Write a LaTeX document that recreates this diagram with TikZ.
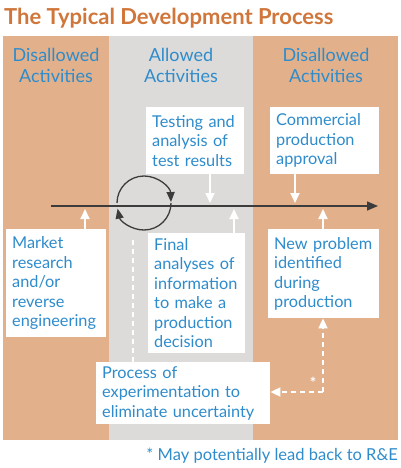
\documentclass[tikz,border=0pt]{standalone}
\usepackage{fontspec}
\setmainfont{Lato}
\usetikzlibrary{arrows.meta}
\definecolor{orangecol}{RGB}{226,177,139}
\definecolor{greycol}{RGB}{220,219,218}
\definecolor{titleorange}{RGB}{208,118,58}
\definecolor{txtblue}{RGB}{46,140,204}
\definecolor{lineclr}{RGB}{60,60,60}
\tikzset{
  box/.style={fill=white, text=txtblue, align=left, anchor=north west,
    inner xsep=6pt, inner ysep=0pt, font=\fontsize{16.3}{19.5}\selectfont},
  header/.style={text=txtblue, align=center, font=\fontsize{18}{21}\selectfont},
  wharrow/.style={draw=white, line width=1.8pt, -{Triangle[width=9pt,length=10pt]}},
  whdash/.style={draw=white, line width=1.8pt, dash pattern=on 5pt off 4pt},
  loopline/.style={draw=lineclr, line width=1.3pt, -{Triangle[width=8pt,length=10pt]}}
}
\begin{document}
\begin{tikzpicture}[x=1pt, y=-1pt]
    \useasboundingbox (0,0) rectangle (400,468);
    % columns
    \fill[orangecol] (3,36) rectangle (109,440);
    \fill[greycol] (109,36) rectangle (253,440);
    \fill[orangecol] (253,36) rectangle (398,440);
    \node[anchor=west, text=titleorange, font=\fontsize{22}{26}\bfseries, inner sep=0pt] (title) at (4,18) {The Typical Development Process};
    \node[header] (hleft) at (56,65) {Disallowed\\Activities};
    \node[header] (hmid) at (181,65) {Allowed\\Activities};
    \node[header] (hright) at (326,65) {Disallowed\\Activities};
    % time line
    \coordinate (start) at (51,206);
    \coordinate (end) at (378,206);
    \draw[draw=lineclr, line width=1.5pt, -{Triangle[width=9pt,length=11pt]}] (start) -- (end);
    % boxes
    \node[box, text width=86pt, minimum height=67pt] (test) at (146,107) {Testing and\\analysis of\\test results};
    \node[box, text width=97pt, minimum height=67pt] (approve) at (270,107) {Commercial\\production\\approval};
    \node[box, text width=88pt, minimum height=108pt] (market) at (6,229) {Market\\research\\and/or\\reverse\\engineering};
    \node[box, text width=85pt, minimum height=120pt] (final) at (148,233) {Final\\analyses of\\information\\to make a\\production\\decision};
    \node[box, text width=99pt, minimum height=89pt] (newprob) at (268,229) {New problem\\identified\\during\\production};
    \node[box, text width=162pt, minimum height=62pt] (process) at (96,362) {Process of\\experimentation to\\eliminate uncertainty};
    % arrows to the line
    \coordinate (t1) at (210,203);
    \coordinate (t2) at (295,203);
    \coordinate (b1) at (85,209);
    \coordinate (b2) at (234,209);
    \coordinate (b3) at (323,209);
    \draw[wharrow] (test.south -| t1) -- (t1);
    \draw[wharrow] (approve.south -| t2) -- (t2);
    \draw[wharrow] (market.north -| b1) -- (b1);
    \draw[wharrow] (final.north -| b2) -- (b2);
    \draw[wharrow] (newprob.north -| b3) -- (b3);
    % loop
    \coordinate (loop) at (144,203);
    \draw[loopline] (loop) ++(180:27) arc[start angle=180, end angle=358, radius=27];
    \draw[loopline] (loop) ++(0:27) arc[start angle=0, end angle=168, radius=27];
    % dashed links
    \coordinate (loopfoot) at (133,240);
    \coordinate (corner) at (323,392);
    \draw[whdash] (process.north -| loopfoot) -- (loopfoot);
    \draw[whdash, -{Triangle[width=9pt,length=10pt]}] (corner) -- (newprob.south -| corner);
    \draw[whdash, -{Triangle[width=9pt,length=10pt]}] (corner) -- (process.east |- corner);
    \node[text=white, font=\bfseries\fontsize{15}{15}\selectfont, inner sep=0pt] (star) at (313,383) {*};
    % footnote
    \node[anchor=east, text=txtblue, font=\fontsize{16.5}{19}\selectfont, inner sep=0pt] (note) at (398,456) {* May potentially lead back to R\&E};
\end{tikzpicture}
\end{document}
